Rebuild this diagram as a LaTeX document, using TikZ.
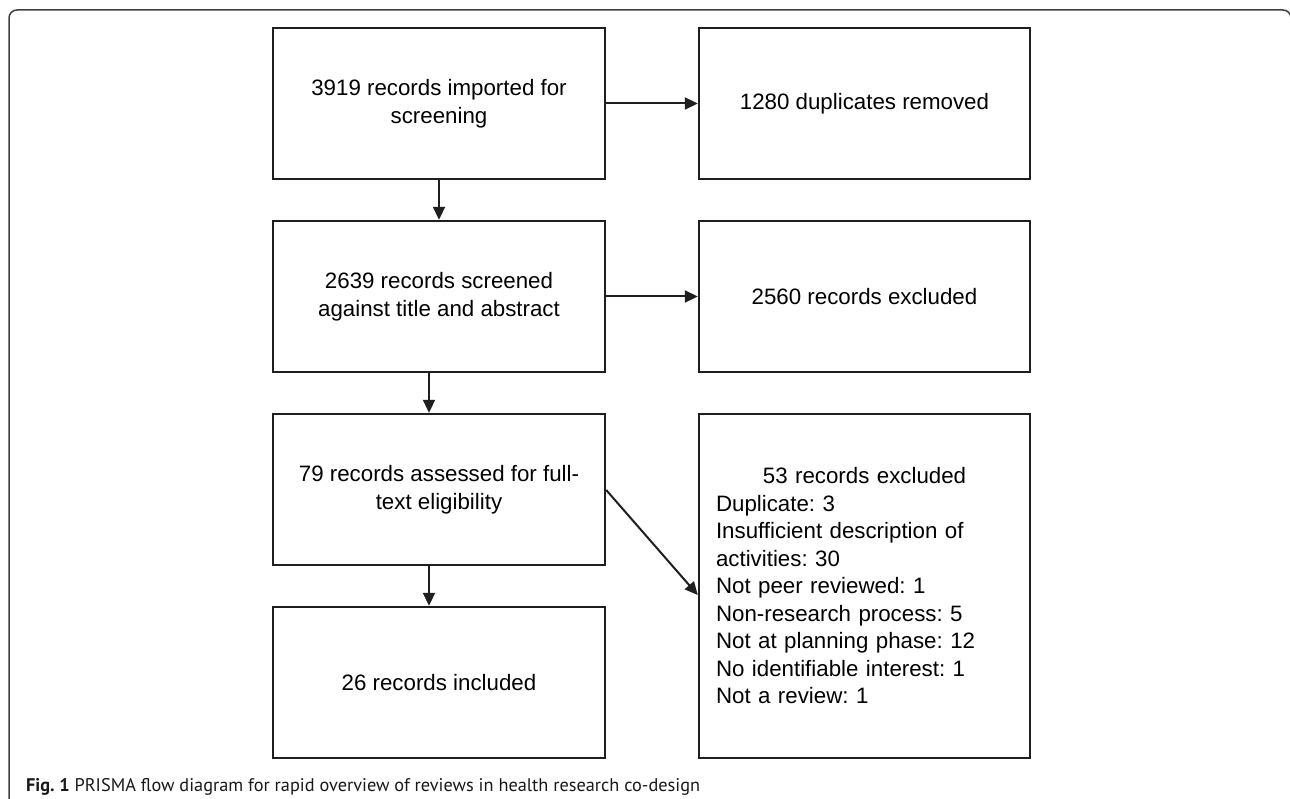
\documentclass[tikz,border=0pt]{standalone}
\usepackage{fontspec}
\setmainfont{Liberation Sans}
\newfontfamily\capfont{PT Sans}
\usetikzlibrary{arrows.meta}
\frenchspacing
\begin{document}
\begin{tikzpicture}[x=1pt,y=-1pt,
  box/.style={draw=black!88, line width=2.4pt, minimum width=332pt, minimum height=151pt,
    inner sep=0pt, align=center, font=\frenchspacing\fontsize{22.3}{27.5}\selectfont},
  flow/.style={draw=black!88, line width=2pt, -{Triangle[length=13pt,width=12pt]}}
]
\useasboundingbox (0,0) rectangle (1290,799);
\fill[white] (0,0) rectangle (1290,799);
\draw[black!75, line width=1.5pt, rounded corners=8pt] (9,830) -- (9,10) -- (1291,10) -- (1291,830);

\node[box] (imp) at (439,103.5) {3919 records imported for\\screening};
\node[box, minimum width=331pt] (dup) at (864.5,103.5) {1280 duplicates removed};
\node[box] (scr) at (439,296.5) {2639 records screened\\against title and abstract};
\node[box, minimum width=331pt] (exa) at (864.5,296.5) {2560 records excluded};
\node[box] (ful) at (439,489.5) {79 records assessed for full-\\text eligibility};
\node[box, minimum width=331pt, minimum height=344pt, text width=297pt, align=left, inner xsep=17pt] (exb) at (864.5,586)
  {\makebox[\linewidth]{53 records excluded}\\
   Duplicate: 3\\
   Insufficient description of\\
   activities: 30\\
   Not peer reviewed: 1\\
   Non-research process: 5\\
   Not at planning phase: 12\\
   No identifiable interest: 1\\
   Not a review: 1};
\node[box] (inc) at (439,682.5) {26 records included};

\draw[flow] (imp) -- (dup);
\draw[flow] (imp) -- (scr);
\draw[flow] (scr) -- (exa);
\draw[flow] ([xshift=-10pt]scr.south) -- ([xshift=-10pt]ful.north);
\draw[flow] ([xshift=-10pt]ful.south) -- ([xshift=-10pt]inc.north);
\draw[flow] ([yshift=-0.5pt]ful.east) -- ([yshift=-9pt]exb.west);

\node[anchor=base west, inner sep=0pt, font=\capfont\fontsize{18.3}{22}\selectfont, text=black!90] (cap) at (26,791)
  {\textbf{Fig. 1} PRISMA flow diagram for rapid overview of reviews in health research co-design};
\end{tikzpicture}
\end{document}
